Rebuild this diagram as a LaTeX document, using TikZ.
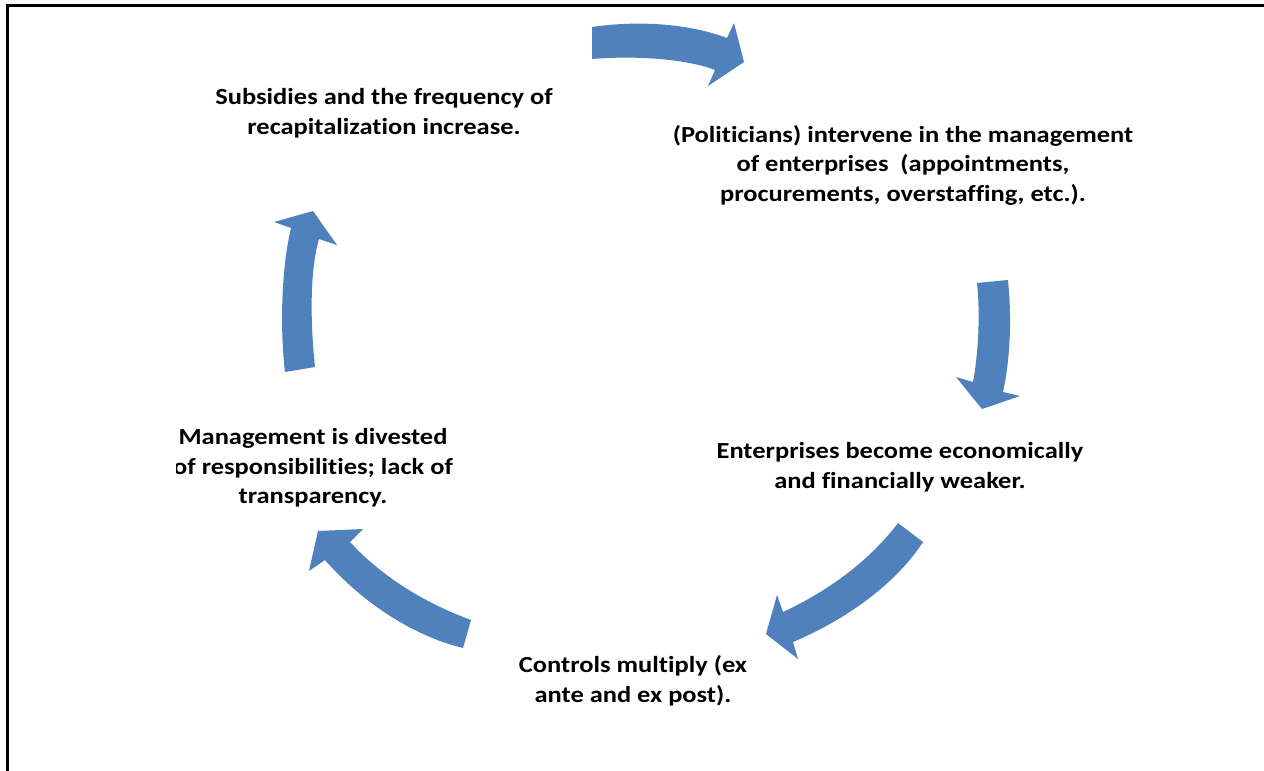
\documentclass[tikz,border=0pt]{standalone}
\usepackage{fontspec}
\setmainfont{Carlito}[Ligatures=NoCommon, FakeStretch=1.15]
\definecolor{arrowblue}{RGB}{79,129,189}
\tikzset{
  lbl/.style={font=\bfseries\fontsize{23}{29.5}\selectfont, align=center, inner sep=0pt, text=black},
  blk/.style={fill=arrowblue, draw=none}
}
\begin{document}
\begin{tikzpicture}[x=1pt,y=-1pt]
\useasboundingbox (0,0) rectangle (1264,771);
\fill[white] (0,0) rectangle (1264,771);
% frame
\draw[line width=3pt] (7,771) -- (7,5) -- (1264,5);

% arrow 1 (top)
\fill[blk] (592,27) .. controls (640,20) and (690,24) .. (727,38)
  -- (734,23) -- (744,62) -- (708,86) -- (715,70)
  .. controls (690,60) and (640,55) .. (592,59) -- cycle;
% arrow 2 (right)
\fill[blk] (977,283) -- (1008,280) .. controls (1012,320) and (1010,360) .. (1003,392)
  -- (1020,396) -- (982,409) -- (956,377) -- (973,382)
  .. controls (979,350) and (980,310) .. (977,283) -- cycle;
% arrow 3 (lower right)
\fill[blk] (898,523) .. controls (870,560) and (830,590) .. (783,612)
  -- (777,595) -- (766,634) -- (798,659) -- (793,642)
  .. controls (845,620) and (895,585) .. (923,542) -- cycle;
% arrow 4 (lower left)
\fill[blk] (471,620) .. controls (430,605) and (385,580) .. (350,542)
  -- (363,529) -- (318,531) -- (309,571) -- (325,560)
  .. controls (360,600) and (410,635) .. (463,648) -- cycle;
% arrow 5 (left)
\fill[blk] (285,372) -- (315,367) .. controls (310,320) and (310,270) .. (319,239)
  -- (337,245) -- (313,211) -- (274,222) -- (291,228)
  .. controls (281,270) and (280,330) .. (285,372) -- cycle;

% labels
\node[lbl] (subs) at (384,113) {Subsidies and the frequency of\\recapitalization increase.};
\node[lbl] (pol) at (903,165) {(Politicians) intervene in the management\\of enterprises\ \ (appointments,\\procurements, overstaffing, etc.).};
\node[lbl] (ent) at (900,467) {Enterprises become economically\\and financially weaker.};
\node[lbl] (ctrl) at (633,681) {Controls multiply (ex\\ante and ex post).};
\begin{scope}
\clip (176,0) rectangle (1264,771);
\node[lbl] (mgmt) at (313,468) {Management is divested\\of responsibilities;\ lack of\\transparency.};
\end{scope}
\end{tikzpicture}
\end{document}
